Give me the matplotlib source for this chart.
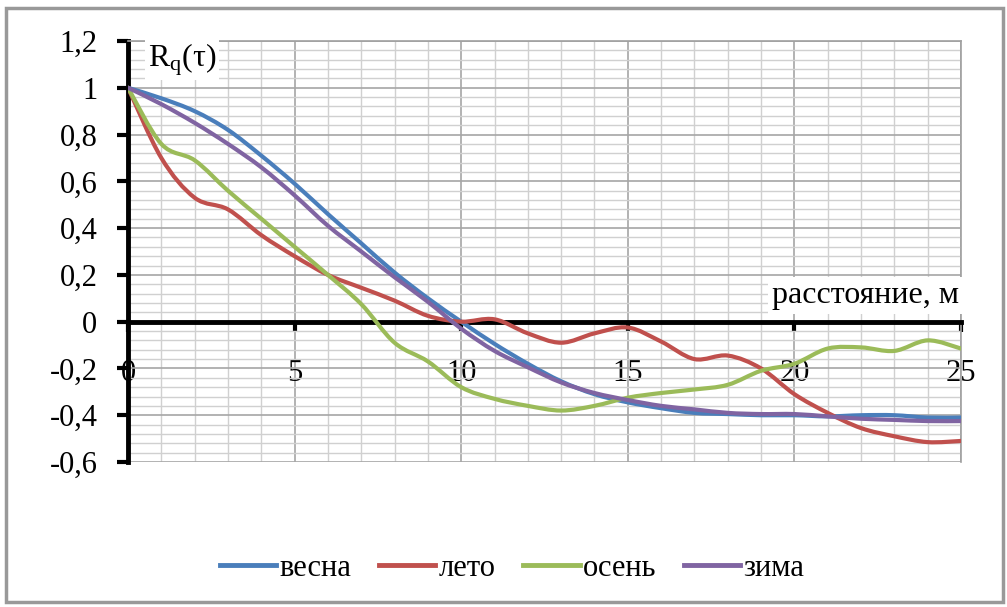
import numpy as np
import matplotlib
matplotlib.use("Agg")
import matplotlib.pyplot as plt
from matplotlib.path import Path
from matplotlib.patches import PathPatch, Rectangle
from matplotlib.lines import Line2D
from matplotlib.ticker import MultipleLocator, FuncFormatter

SERIF = "Liberation Serif"


def set_fonts():
    plt.rcParams["font.family"] = "serif"
    plt.rcParams["font.serif"] = [SERIF, "DejaVu Serif"]
    plt.rcParams["mathtext.fontset"] = "custom"
    plt.rcParams["mathtext.rm"] = SERIF
    plt.rcParams["mathtext.it"] = SERIF + ":italic"


set_fonts()

# расстояние, м
dist = list(range(26))

vesna = [1.0, 0.955, 0.9, 0.82, 0.71, 0.59, 0.46, 0.335, 0.21, 0.1, 0.0, -0.095, -0.18,
         -0.255, -0.31, -0.345, -0.37, -0.39, -0.395, -0.4, -0.4, -0.405, -0.4, -0.4, -0.41, -0.41]
leto = [1.0, 0.70, 0.53, 0.48, 0.37, 0.28, 0.2, 0.145, 0.09, 0.025, 0.0, 0.01, -0.05,
        -0.09, -0.05, -0.025, -0.085, -0.16, -0.145, -0.2, -0.31, -0.39, -0.455, -0.49, -0.515, -0.51]
osen = [1.0, 0.76, 0.69, 0.56, 0.44, 0.32, 0.2, 0.075, -0.09, -0.17, -0.28, -0.33, -0.36,
        -0.38, -0.36, -0.325, -0.305, -0.29, -0.27, -0.21, -0.18, -0.115, -0.11, -0.125, -0.08, -0.115]
zima = [1.0, 0.93, 0.85, 0.76, 0.66, 0.54, 0.41, 0.30, 0.19, 0.085, -0.03, -0.125, -0.195,
        -0.26, -0.305, -0.335, -0.36, -0.375, -0.39, -0.395, -0.395, -0.405, -0.415, -0.42, -0.425, -0.425]

series = [("весна", vesna, "#4a7ebb"),
          ("лето", leto, "#c0504d"),
          ("осень", osen, "#9bbb59"),
          ("зима", zima, "#8064a2")]


def smooth_path(xs, ys):
    # сглаженная линия как в Excel: кривые Безье через точки данных
    p = np.column_stack([xs, ys]).astype(float)
    n = len(p)
    verts = [p[0]]
    codes = [Path.MOVETO]
    for i in range(n - 1):
        p0 = p[i - 1] if i > 0 else p[i]
        p1, p2 = p[i], p[i + 1]
        p3 = p[i + 2] if i + 2 < n else p[i + 1]
        c1 = p1 + (p2 - p0) / 6.0
        c2 = p2 - (p3 - p1) / 6.0
        verts += [c1, c2, p2]
        codes += [Path.CURVE4] * 3
    return Path(verts, codes)


fig = plt.figure(figsize=(10.07, 6.07), dpi=100)
set_fonts()
fig.patch.set_facecolor("white")
fig.patches.append(Rectangle((6 / 1007, 1 - 602 / 607), 997 / 1007, 594 / 607,
                             transform=fig.transFigure, fill=False,
                             edgecolor="#999999", lw=2.5, zorder=0))

ax = fig.add_axes([128 / 1007, 145 / 607, 833 / 1007, 421 / 607])
ax.set_xlim(0, 25)
ax.set_ylim(-0.6, 1.2)

ax.xaxis.set_major_locator(MultipleLocator(5))
ax.xaxis.set_minor_locator(MultipleLocator(1))
ax.yaxis.set_major_locator(MultipleLocator(0.2))
ax.yaxis.set_minor_locator(MultipleLocator(0.04))
ax.grid(which="major", color="#a6a6a6", lw=1.2)
ax.grid(which="minor", color="#d0d0d0", lw=1.0)
ax.set_axisbelow(True)

for s in ("top", "right"):
    ax.spines[s].set_color("#a0a0a0")
    ax.spines[s].set_linewidth(1.2)
ax.spines["left"].set_linewidth(3.5)
ax.spines["bottom"].set_position(("data", 0))
ax.spines["bottom"].set_linewidth(3.5)

ax.tick_params(axis="y", which="major", direction="out", length=8, width=3,
               pad=14, labelsize=22, labelfontfamily=SERIF)
ax.tick_params(axis="x", which="major", direction="out", length=7, width=3,
               pad=20, labelsize=22, labelfontfamily=SERIF)
ax.tick_params(which="minor", length=0)
ax.yaxis.set_major_formatter(FuncFormatter(lambda v, _: f"{v:g}".replace(".", ",")))

for name, ys, col in series:
    ax.add_patch(PathPatch(smooth_path(dist, ys), facecolor="none", edgecolor=col,
                           lw=3, capstyle="round", joinstyle="round", zorder=3,
                           transform=ax.transData, clip_on=True))

ax.text(0.6, 1.2, r"R$_\mathrm{q}$(τ)", fontsize=23, family=SERIF, ha="left", va="top",
        bbox=dict(facecolor="white", edgecolor="none", pad=2), zorder=4)
ax.text(24.95, 0.05, "расстояние, м", fontsize=23, family=SERIF, ha="right", va="bottom",
        bbox=dict(facecolor="white", edgecolor="none", pad=3), zorder=4)

handles = [Line2D([], [], color=col, lw=3.5) for _, _, col in series]
fig.legend(handles, [n for n, _, _ in series], loc="center", ncol=4,
           bbox_to_anchor=(512 / 1007, 1 - 568 / 607), frameon=False,
           prop=dict(family=SERIF, size=22), handlelength=1.85,
           handletextpad=0.1, columnspacing=0.9)

set_fonts()
fig.savefig("out.png", dpi=100)
